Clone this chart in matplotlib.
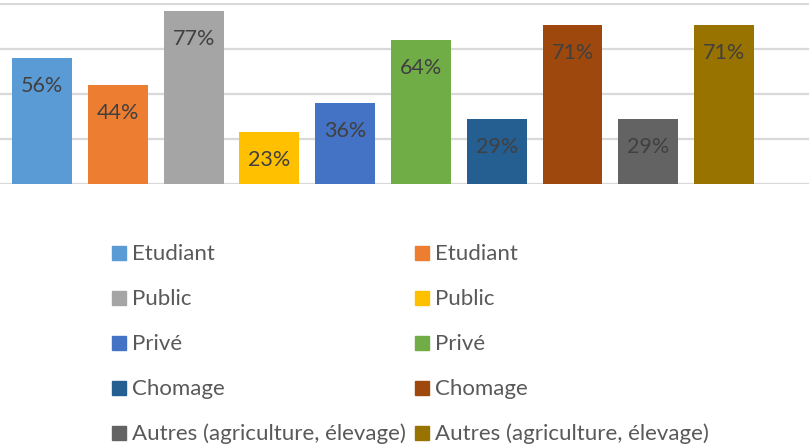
import matplotlib.pyplot as plt
from matplotlib.patches import Rectangle

# parts des répondants par situation (deux séries par catégorie)
labels = ['Etudiant', 'Etudiant', 'Public', 'Public', 'Privé', 'Privé',
          'Chomage', 'Chomage', 'Autres (agriculture, élevage)', 'Autres (agriculture, élevage)']
values = [56, 44, 77, 23, 36, 64, 29, 71, 29, 71]
colors = ['#5B9BD5', '#ED7D31', '#A5A5A5', '#FFC000', '#4472C4',
          '#70AD47', '#255E91', '#9E480E', '#636363', '#997300']
grid_ticks = [0, 20, 40, 60, 80]

W, H = 809, 448
fig = plt.figure(figsize=(W / 100, H / 100), dpi=100)
ax = fig.add_axes([0, (H - 184) / H, 1, 181 / H])

xs = list(range(len(values)))
for y in grid_ticks:
    ax.axhline(y, color='#D9D9D9', lw=1.6, zorder=0)
bars = ax.bar(xs, values, width=0.79, color=colors, zorder=2)
for b, v in zip(bars, values):
    ax.annotate(f'{v}%', (b.get_x() + b.get_width() / 2, v),
                xytext=(0, -28), textcoords='offset pixels',
                ha='center', va='center', fontsize=15.5, family='Lato',
                color='#404040', zorder=3)

ax.set_xlim(-0.554, 10.12)
ax.set_ylim(0, 80.6)
ax.axis('off')

# légende sur deux colonnes, remplie ligne par ligne
col_x = [112, 415]
row_y = [253, 298, 343, 388, 433]
sq = 14
for i, (lab, c) in enumerate(zip(labels, colors)):
    x0 = col_x[i % 2]
    y0 = row_y[i // 2]
    fig.patches.append(Rectangle(((x0) / W, (H - y0 - sq / 2) / H), sq / W, sq / H,
                                 transform=fig.transFigure, color=c))
    fig.text((x0 + sq + 6) / W, (H - y0 - 1) / H, lab, ha='left', va='center',
             fontsize=16, family='Lato', color='#595959')

fig.savefig('out.png', dpi=100)
